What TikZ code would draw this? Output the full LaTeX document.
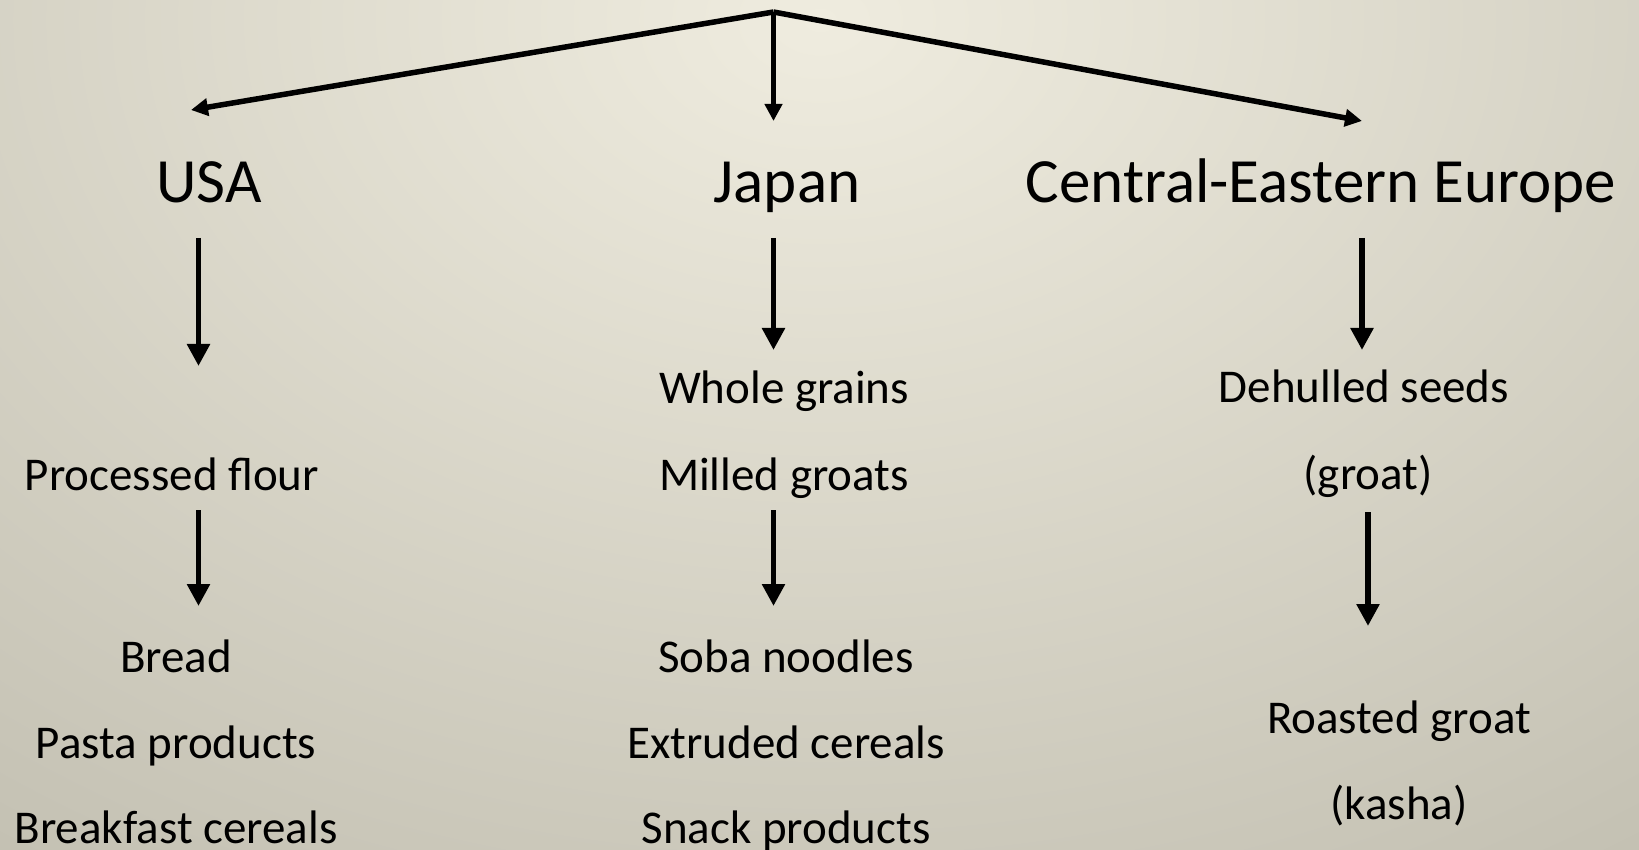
\documentclass[tikz,border=0pt]{standalone}
\usepackage{fontspec}
\setmainfont{Carlito}
\usetikzlibrary{arrows.meta}
\definecolor{bglight}{HTML}{EFECDF}
\definecolor{bgdark}{HTML}{9A9788}
\begin{document}
\begin{tikzpicture}[x=1pt,y=-1pt,
  head/.style={anchor=base,inner sep=0pt,font=\fontsize{63}{75}\selectfont},
  item/.style={anchor=base,inner sep=0pt,font=\fontsize{47}{56}\selectfont},
  toparr/.style={line width=5.5pt,-{Triangle[length=17pt,width=17pt]}},
  downarr/.style={line width=5.5pt,-{Triangle[length=22pt,width=22pt]}}]
\useasboundingbox (0,0) rectangle (1639,850);
\begin{scope}
\clip (0,0) rectangle (1639,850);
\shade[inner color=bglight,outer color=bgdark] (820,20) ellipse [x radius=2800pt,y radius=2000pt];
\end{scope}
% headings
\node[head] (usa) at (209,203) {USA};
\node[head] (japan) at (787,203) {Japan};
\node[head] (cee) at (1321,203) {Central-Eastern Europe};
% USA column
\node[item] (flour) at (172,490) {Processed flour};
\node[item] (bread) at (176,672) {Bread};
\node[item] (pasta) at (176,758) {Pasta products};
\node[item] (breakfast) at (176,843) {Breakfast cereals};
% Japan column
\node[item] (whole) at (784,403) {Whole grains};
\node[item] (milled) at (784,490) {Milled groats};
\node[item] (soba) at (786,672) {Soba noodles};
\node[item] (extruded) at (786,758) {Extruded cereals};
\node[item] (snack) at (786,843) {Snack products};
% CEE column
\node[item] (dehulled) at (1364,402) {Dehulled seeds};
\node[item] (groat) at (1368,489) {(groat)};
\node[item] (roasted) at (1399,733) {Roasted groat};
\node[item] (kasha) at (1399,819) {(kasha)};
% coordinates
\coordinate (apex) at (773.5,12);
\coordinate (tusa) at (191,110);
\coordinate (tjap) at (773.5,121);
\coordinate (tcee) at (1362,121);
\coordinate (u1a) at (198.5,238); \coordinate (u1b) at (198.5,366);
\coordinate (u2a) at (198.5,510); \coordinate (u2b) at (198.5,606);
\coordinate (j1a) at (773.5,238); \coordinate (j1b) at (773.5,350);
\coordinate (j2a) at (773.5,510); \coordinate (j2b) at (773.5,606);
\coordinate (c1a) at (1362,238); \coordinate (c1b) at (1362,350);
\coordinate (c2a) at (1368,512); \coordinate (c2b) at (1368,626);
% arrows
\draw[toparr] (apex) -- (tusa);
\draw[toparr] (apex) -- (tjap);
\draw[toparr] (apex) -- (tcee);
\draw[downarr] (u1a) -- (u1b);
\draw[downarr] (u2a) -- (u2b);
\draw[downarr] (j1a) -- (j1b);
\draw[downarr] (j2a) -- (j2b);
\draw[downarr] (c1a) -- (c1b);
\draw[downarr] (c2a) -- (c2b);
\end{tikzpicture}
\end{document}
